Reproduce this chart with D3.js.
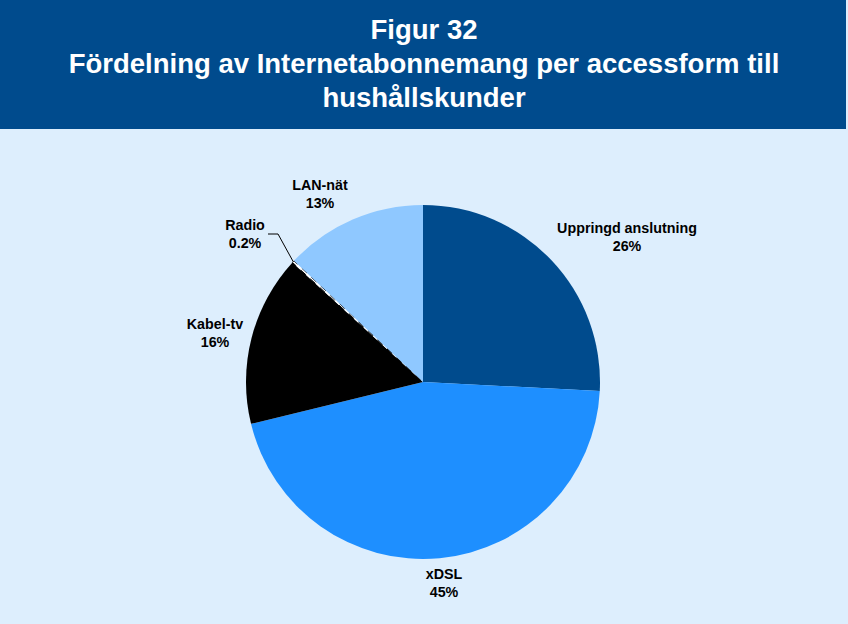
<!DOCTYPE html>
<html lang="sv">
<head>
<meta charset="utf-8">
<script src="https://d3js.org/d3.v7.min.js"></script>
<style>
  body { margin:0; background:#fff; }
  text { font-family: "Liberation Sans", Arial, sans-serif; }
</style>
</head>
<body>
<script>
// data
var categories = ["Uppringd anslutning", "xDSL", "Kabel-tv", "Radio", "LAN-nät"];
var values = [25.8, 45.4, 15.6, 0.2, 13.0];
var colors = ["#004B8D", "#1E8FFF", "#000000", "#FFFFFF", "#8FC8FF"];
var titleLines = ["Figur 32", "Fördelning av Internetabonnemang per accessform till", "hushållskunder"];
// label positions (centre x, baseline of first line)
var labelPos = [[627, 233], [444, 579], [215, 329], [245, 230], [320, 190]];

var w = 848, h = 624;
var cx = 423, cy = 382, r = 177;

var svg = d3.select("body").append("svg")
  .attr("width", w).attr("height", h);

svg.append("rect").attr("width", w).attr("height", h).attr("fill", "#DDEEFD");
svg.append("rect").attr("x", 0).attr("y", 0).attr("width", w - 2).attr("height", 129)
  .attr("fill", "#004B8D");

svg.selectAll(".title").data(titleLines).enter().append("text")
  .attr("class", "title")
  .attr("x", 424)
  .attr("y", function(d, i){ return 39 + i * 34; })
  .attr("text-anchor", "middle")
  .attr("fill", "#fff")
  .attr("font-weight", "bold")
  .attr("font-size", "27.5px")
  .text(function(d){ return d; });

var pie = d3.pie().sort(null).value(function(d){ return d; });
var arcs = pie(values);
var arc = d3.arc().innerRadius(0).outerRadius(r);

var g = svg.append("g").attr("transform", "translate(" + cx + "," + cy + ")");
g.selectAll("path").data(arcs).enter().append("path")
  .attr("d", arc)
  .attr("fill", function(d, i){ return colors[i]; })
  .attr("stroke", function(d, i){ return i == 3 ? "#000" : "none"; })
  .attr("stroke-width", 1)
  .attr("stroke-dasharray", function(d, i){ return i == 3 ? "7,6" : null; });

// leader line for Radio
var radio = arcs[3];
var mid = (radio.startAngle + radio.endAngle) / 2;
var ex = cx + Math.sin(mid) * r, ey = cy - Math.cos(mid) * r;
svg.append("polyline")
  .attr("points", [[268, 234], [278, 234], [ex, ey]].map(function(p){ return p.join(","); }).join(" "))
  .attr("fill", "none").attr("stroke", "#000").attr("stroke-width", 1);

var fmt = function(v){ return v < 1 ? d3.format(".1f")(v) + "%" : d3.format(".0f")(v) + "%"; };

var labels = svg.selectAll(".lbl").data(categories).enter().append("text")
  .attr("class", "lbl")
  .attr("text-anchor", "middle")
  .attr("font-weight", "bold")
  .attr("font-size", "14.3px")
  .attr("fill", "#000");
labels.append("tspan")
  .attr("x", function(d, i){ return labelPos[i][0]; })
  .attr("y", function(d, i){ return labelPos[i][1]; })
  .text(function(d){ return d; });
labels.append("tspan")
  .attr("x", function(d, i){ return labelPos[i][0]; })
  .attr("y", function(d, i){ return labelPos[i][1] + 17.5; })
  .text(function(d, i){ return fmt(values[i]); });
</script>
</body>
</html>
